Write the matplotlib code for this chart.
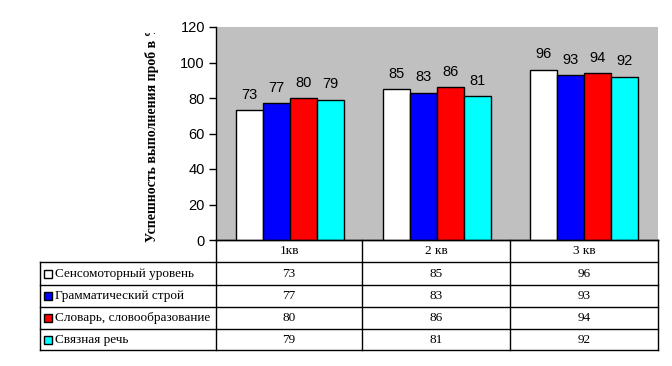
import numpy as np
import matplotlib
matplotlib.use("Agg")
import matplotlib.pyplot as plt
from matplotlib.patches import Rectangle
from matplotlib.lines import Line2D
from matplotlib.transforms import Bbox

# data
quarters = ["1кв", "2 кв", "3 кв"]
series_names = ["Сенсомоторный уровень", "Грамматический строй",
                "Словарь, словообразование", "Связная речь"]
sensor = [73, 85, 96]
grammar = [77, 83, 93]
vocab = [80, 86, 94]
speech = [79, 81, 92]
colors = ["#FFFFFF", "#0000FF", "#FF0000", "#00FFFF"]

W, H = 672, 366
fig = plt.figure(figsize=(W / 100, H / 100), dpi=100, facecolor="w")

def fx(px):
    return px / W

def fy(py):
    return 1 - py / H

left, right, top, bottom = 216, 657.5, 27, 240
ax = fig.add_axes([fx(left), fy(bottom), fx(right - left), fy(top) - fy(bottom)])
ax.set_facecolor("#C0C0C0")

series = [sensor, grammar, vocab, speech]
x = np.arange(len(quarters))
bw = 27 / 147
for i, (vals, c) in enumerate(zip(series, colors)):
    pos = x + (i - 1.5) * bw
    ax.bar(pos, vals, width=bw, color=c, edgecolor="black", linewidth=1, zorder=3)
    for p, v in zip(pos, vals):
        ax.annotate(str(v), (p, v), xytext=(0, 6), textcoords="offset points",
                    ha="center", va="bottom", fontsize=10.5, family="Liberation Sans")

ax.set_xlim(-0.5, 2.5)
ax.set_ylim(0, 120)
ax.set_yticks(range(0, 121, 20))
ax.set_xticks([])
ax.tick_params(axis="y", direction="out", length=5, width=1, pad=3, labelsize=10.5)
for lab in ax.get_yticklabels():
    lab.set_family("Liberation Sans")
for s in ["top", "right"]:
    ax.spines[s].set_visible(False)
ax.spines["left"].set_linewidth(1)
ax.spines["bottom"].set_linewidth(1)

# y label, clipped at top like the original
yl = fig.text(fx(152), fy(242), "Успешность выполнения проб в %", rotation=90,
              ha="center", va="bottom", fontsize=10, fontweight="bold",
              family="Liberation Serif")
yl.set_clip_box(Bbox([[0, 0], [W, H - 33]]))
yl.set_clip_on(True)

# data table
tleft = 40
cols = [216, 362.3, 510.3, 657.5]
rows = [240, 262.3, 285, 307.3, 329.3, 350]

def hline(y, x0, x1):
    fig.add_artist(Line2D([fx(x0), fx(x1)], [fy(y), fy(y)], color="black", lw=1))

def vline(xp, y0, y1):
    fig.add_artist(Line2D([fx(xp), fx(xp)], [fy(y0), fy(y1)], color="black", lw=1))

for y in rows[1:]:
    hline(y, tleft, cols[-1])
hline(rows[0], cols[0], cols[-1])
for xp in cols:
    vline(xp, rows[0], rows[-1])
vline(tleft, rows[1], rows[-1])

for j, q in enumerate(quarters):
    fig.text(fx((cols[j] + cols[j + 1]) / 2), fy((rows[0] + rows[1]) / 2), q,
             ha="center", va="center", fontsize=9.5, family="Liberation Serif")

for i, (name, vals, c) in enumerate(zip(series_names, series, colors)):
    yc = (rows[i + 1] + rows[i + 2]) / 2
    fig.add_artist(Rectangle((fx(44), fy(yc + 4)), fx(8), fy(yc - 4) - fy(yc + 4),
                             facecolor=c, edgecolor="black", lw=1))
    fig.text(fx(55), fy(yc), name, ha="left", va="center", fontsize=9.5,
             family="Liberation Serif")
    for j, v in enumerate(vals):
        fig.text(fx((cols[j] + cols[j + 1]) / 2), fy(yc), str(v),
                 ha="center", va="center", fontsize=9.5, family="Liberation Serif")

fig.savefig("out.png", dpi=100, facecolor="white")
